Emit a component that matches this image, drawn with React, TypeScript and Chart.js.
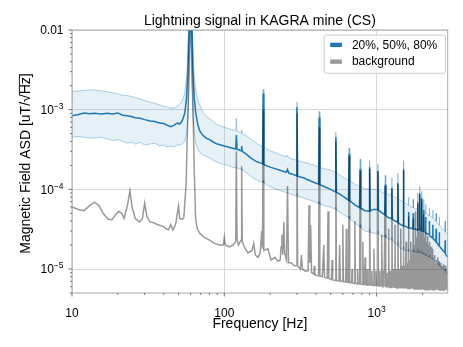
import React, { useEffect, useRef } from 'react';
import { Chart, registerables } from 'chart.js';

Chart.register(...registerables);

const FONT = "'Liberation Sans', Arial, Helvetica, sans-serif";

const chartTitle = 'Lightning signal in KAGRA mine (CS)';
const xTitle = 'Frequency [Hz]';
const yTitlePrefix = 'Magnetic Field ASD [uT/';
const yTitleRoot = '\u221A';
const yTitleUnder = 'Hz';
const yTitleSuffix = ']';
const legendLabels = ['20%, 50%, 80%', 'background'];

const xRange = [10, 2930];
const yRange = [5e-6, 1e-2];
const xMajorTicks = [10, 100, 1000];
const xMajorLabels: [string, string][] = [['10', ''], ['100', ''], ['10', '3']];
const yMajorTicks = [1e-5, 1e-4, 1e-3, 1e-2];
const yMajorLabels: [string, string][] = [['10', '\u22125'], ['10', '\u22124'], ['10', '\u22123'], ['0.01', '']];

// [frequency Hz, 20th percentile, median, 80th percentile]
const bluePercentiles: [number, number, number, number][] = [
  [10, 4.5e-4, 8.4e-4, 1.7e-3],
  [11, 4.6e-4, 8.7e-4, 1.72e-3],
  [12, 4.5e-4, 9.1e-4, 1.75e-3],
  [13, 4.4e-4, 8.9e-4, 1.76e-3],
  [14, 4.4e-4, 9.0e-4, 1.77e-3],
  [15.5, 4.5e-4, 8.8e-4, 1.72e-3],
  [17, 4.3e-4, 9.0e-4, 1.68e-3],
  [18.5, 4.1e-4, 8.8e-4, 1.62e-3],
  [20, 4.2e-4, 9.1e-4, 1.58e-3],
  [21.5, 4.0e-4, 8.5e-4, 1.52e-3],
  [23, 3.8e-4, 8.4e-4, 1.5e-3],
  [24.5, 3.9e-4, 8.2e-4, 1.47e-3],
  [26, 3.7e-4, 7.9e-4, 1.42e-3],
  [28, 3.9e-4, 7.8e-4, 1.36e-3],
  [30, 3.6e-4, 7.5e-4, 1.3e-3],
  [32.5, 3.7e-4, 7.2e-4, 1.24e-3],
  [35, 3.8e-4, 7.1e-4, 1.2e-3],
  [37.5, 3.5e-4, 6.8e-4, 1.15e-3],
  [40, 3.6e-4, 6.7e-4, 1.1e-3],
  [42, 3.4e-4, 6.4e-4, 1.08e-3],
  [44.5, 3.5e-4, 6.1e-4, 1.05e-3],
  [47, 3.4e-4, 6.4e-4, 1.05e-3],
  [49, 3.6e-4, 6.8e-4, 1.1e-3],
  [51, 3.6e-4, 6.6e-4, 1.18e-3],
  [53, 3.7e-4, 7.3e-4, 1.3e-3],
  [55, 4.0e-4, 9.0e-4, 1.6e-3],
  [56.5, 5.0e-4, 1.4e-3, 2.5e-3],
  [57.8, 8.0e-4, 3.5e-3, 6.0e-3],
  [58.8, 2.0e-3, 1.5e-2, 2.0e-2],
  [60, 1.0e-2, 6.0e-2, 8.0e-2],
  [61.2, 2.0e-3, 1.4e-2, 2.0e-2],
  [62.3, 8.0e-4, 3.0e-3, 5.0e-3],
  [63.5, 5.0e-4, 1.4e-3, 2.6e-3],
  [65, 3.8e-4, 9.0e-4, 1.7e-3],
  [67, 3.2e-4, 6.5e-4, 1.3e-3],
  [69, 2.9e-4, 5.4e-4, 1.15e-3],
  [72, 2.7e-4, 4.8e-4, 9.5e-4],
  [76, 2.6e-4, 4.4e-4, 8.3e-4],
  [80, 2.5e-4, 4.2e-4, 7.7e-4],
  [85, 2.3e-4, 3.9e-4, 7.0e-4],
  [90, 2.2e-4, 3.7e-4, 6.5e-4],
  [95, 2.1e-4, 3.6e-4, 6.2e-4],
  [100, 2.05e-4, 3.5e-4, 6.0e-4],
  [106, 2.0e-4, 3.4e-4, 5.8e-4],
  [112, 1.9e-4, 3.3e-4, 5.6e-4],
  [118.8, 1.85e-4, 3.2e-4, 5.5e-4],
  [120, 1.9e-4, 4.8e-4, 7.8e-4],
  [121.2, 1.85e-4, 3.2e-4, 5.4e-4],
  [126, 1.8e-4, 3.1e-4, 5.2e-4],
  [128.8, 1.78e-4, 3.05e-4, 5.1e-4],
  [130, 1.8e-4, 3.5e-4, 5.6e-4],
  [131.2, 1.75e-4, 3.0e-4, 5.0e-4],
  [140, 1.6e-4, 2.75e-4, 4.7e-4],
  [148, 1.48e-4, 2.5e-4, 4.3e-4],
  [157, 1.36e-4, 2.32e-4, 3.95e-4],
  [165, 1.3e-4, 2.2e-4, 3.7e-4],
  [172, 1.25e-4, 2.15e-4, 3.55e-4],
  [178.2, 1.22e-4, 2.1e-4, 3.45e-4],
  [180, 1.3e-4, 1.6e-3, 1.8e-3],
  [181.8, 1.2e-4, 2.05e-4, 3.4e-4],
  [190, 1.14e-4, 1.97e-4, 3.2e-4],
  [200, 1.08e-4, 1.9e-4, 3.05e-4],
  [215, 1.02e-4, 1.82e-4, 2.9e-4],
  [235, 9.6e-5, 1.72e-4, 2.7e-4],
  [255, 9.1e-5, 1.64e-4, 2.55e-4],
  [260, 9.0e-5, 1.78e-4, 2.7e-4],
  [265, 8.9e-5, 1.6e-4, 2.5e-4],
  [280, 8.6e-5, 1.55e-4, 2.4e-4],
  [297, 8.2e-5, 1.48e-4, 2.32e-4],
  [300, 9.0e-5, 1.07e-3, 1.25e-3],
  [303, 8.2e-5, 1.46e-4, 2.3e-4],
  [330, 7.8e-5, 1.4e-4, 2.2e-4],
  [360, 7.4e-5, 1.3e-4, 2.1e-4],
  [390, 7.0e-5, 1.22e-4, 2.0e-4],
  [416, 6.6e-5, 1.16e-4, 1.9e-4],
  [420, 7.0e-5, 8.0e-4, 9.5e-4],
  [424, 6.5e-5, 1.14e-4, 1.88e-4],
  [460, 6.2e-5, 1.07e-4, 1.8e-4],
  [498, 6.0e-5, 1.0e-4, 1.75e-4],
  [535, 5.6e-5, 9.3e-5, 1.62e-4],
  [540, 6.0e-5, 4.5e-4, 5.2e-4],
  [545, 5.5e-5, 9.2e-5, 1.6e-4],
  [590, 5.0e-5, 8.4e-5, 1.46e-4],
  [630, 4.6e-5, 7.7e-5, 1.35e-4],
  [654, 4.4e-5, 7.3e-5, 1.29e-4],
  [660, 4.6e-5, 2.8e-4, 3.3e-4],
  [666, 4.3e-5, 7.2e-5, 1.27e-4],
  [720, 3.8e-5, 6.4e-5, 1.17e-4],
  [773, 3.4e-5, 5.9e-5, 1.08e-4],
  [780, 3.6e-5, 1.8e-4, 2.4e-4],
  [787, 3.3e-5, 5.8e-5, 1.07e-4],
  [840, 3.0e-5, 5.4e-5, 1.02e-4],
  [892, 2.9e-5, 5.3e-5, 1.0e-4],
  [900, 3.2e-5, 1.9e-4, 2.3e-4],
  [908, 2.9e-5, 5.4e-5, 1.0e-4],
  [960, 2.8e-5, 5.6e-5, 1.0e-4],
  [1011, 2.8e-5, 5.6e-5, 1.0e-4],
  [1020, 3.0e-5, 1.7e-4, 2.1e-4],
  [1029, 2.8e-5, 5.5e-5, 9.9e-5],
  [1080, 2.6e-5, 5.1e-5, 9.3e-5],
  [1131, 2.5e-5, 4.8e-5, 8.9e-5],
  [1140, 2.7e-5, 1.15e-4, 1.5e-4],
  [1149, 2.5e-5, 4.7e-5, 8.8e-5],
  [1200, 2.4e-5, 4.4e-5, 8.6e-5],
  [1251, 2.3e-5, 4.3e-5, 8.4e-5],
  [1260, 2.5e-5, 1.05e-4, 1.4e-4],
  [1269, 2.3e-5, 4.2e-5, 8.3e-5],
  [1320, 2.1e-5, 4.0e-5, 8.0e-5],
  [1371, 2.0e-5, 3.9e-5, 7.7e-5],
  [1380, 2.2e-5, 1.2e-4, 1.6e-4],
  [1389, 2.0e-5, 3.8e-5, 7.6e-5],
  [1440, 1.8e-5, 3.6e-5, 7.2e-5],
  [1491, 1.75e-5, 3.5e-5, 7.0e-5],
  [1500, 1.9e-5, 1.8e-4, 2.3e-4],
  [1509, 1.75e-5, 3.5e-5, 6.9e-5],
  [1560, 1.7e-5, 3.4e-5, 6.6e-5],
  [1611, 1.68e-5, 3.3e-5, 6.4e-5],
  [1620, 1.8e-5, 5.2e-5, 8.0e-5],
  [1629, 1.68e-5, 3.3e-5, 6.3e-5],
  [1680, 1.65e-5, 3.25e-5, 6.0e-5],
  [1731, 1.65e-5, 3.2e-5, 5.9e-5],
  [1740, 1.75e-5, 5.0e-5, 7.5e-5],
  [1749, 1.65e-5, 3.2e-5, 5.9e-5],
  [1800, 1.62e-5, 3.15e-5, 5.7e-5],
  [1851, 1.6e-5, 3.1e-5, 5.6e-5],
  [1860, 1.8e-5, 6.5e-5, 9.0e-5],
  [1869, 1.6e-5, 3.1e-5, 5.6e-5],
  [1911, 1.6e-5, 3.2e-5, 5.6e-5],
  [1920, 1.7e-5, 8.6e-5, 1.1e-4],
  [1929, 1.6e-5, 3.1e-5, 5.5e-5],
  [1971, 1.58e-5, 3.05e-5, 5.4e-5],
  [1980, 1.7e-5, 7.5e-5, 9.5e-5],
  [1989, 1.56e-5, 3.0e-5, 5.3e-5],
  [2031, 1.54e-5, 2.98e-5, 5.2e-5],
  [2040, 1.6e-5, 5.5e-5, 7.5e-5],
  [2049, 1.52e-5, 2.95e-5, 5.1e-5],
  [2091, 1.5e-5, 2.9e-5, 5.0e-5],
  [2100, 1.55e-5, 4.5e-5, 6.5e-5],
  [2109, 1.48e-5, 2.85e-5, 4.9e-5],
  [2211, 1.42e-5, 2.7e-5, 4.75e-5],
  [2220, 1.5e-5, 4.0e-5, 5.8e-5],
  [2229, 1.4e-5, 2.65e-5, 4.7e-5],
  [2331, 1.33e-5, 2.45e-5, 4.4e-5],
  [2340, 1.4e-5, 3.6e-5, 5.5e-5],
  [2349, 1.32e-5, 2.42e-5, 4.35e-5],
  [2451, 1.23e-5, 2.2e-5, 4.0e-5],
  [2460, 1.3e-5, 3.2e-5, 5.0e-5],
  [2469, 1.22e-5, 2.18e-5, 3.95e-5],
  [2571, 1.12e-5, 1.95e-5, 3.6e-5],
  [2580, 1.2e-5, 2.9e-5, 4.5e-5],
  [2589, 1.1e-5, 1.93e-5, 3.55e-5],
  [2700, 1.02e-5, 1.75e-5, 3.2e-5],
  [2811, 9.6e-6, 1.6e-5, 3.0e-5],
  [2820, 1.0e-5, 2.3e-5, 4.0e-5],
  [2829, 9.5e-6, 1.55e-5, 2.9e-5],
  [2930, 8.5e-6, 1.4e-5, 2.7e-5],
];

// [frequency Hz, background ASD]
const backgroundAsd: [number, number][] = [
  [10, 6.0e-5], [11, 5.6e-5], [12, 5.4e-5], [13, 6.2e-5], [14, 6.9e-5], [15, 6.3e-5],
  [16, 5.0e-5], [17.3, 4.2e-5], [18.3, 4.15e-5], [19.3, 4.8e-5], [20.3, 5.3e-5], [21.2, 5.0e-5],
  [22, 4.3e-5], [23.2, 6.5e-5], [24, 9.6e-5], [24.8, 6.0e-5], [26, 4.3e-5], [27.8, 3.9e-5],
  [29, 4.3e-5], [30, 6.7e-5], [31, 4.6e-5], [32.5, 3.9e-5], [34.5, 3.8e-5], [36.5, 3.6e-5],
  [38.5, 3.5e-5], [40, 3.4e-5], [41.5, 3.2e-5], [43, 3.1e-5], [44.5, 3.6e-5], [46, 3.1e-5],
  [48, 3.7e-5], [50, 6.2e-5], [51, 4.3e-5], [52.5, 4.2e-5], [54.2, 4.4e-5], [56.2, 1.2e-4],
  [57, 4.0e-4], [57.9, 1.1e-3], [59, 6.0e-3], [60, 5.0e-2], [61, 6.0e-3], [62.3, 1.1e-3],
  [63.5, 1.7e-4], [64.8, 4.3e-5], [66.5, 3.2e-5], [69, 2.8e-5], [74, 2.5e-5], [80, 2.3e-5],
  [86, 2.1e-5], [93, 2.0e-5], [98.5, 2.0e-5], [100, 2.5e-5], [101.5, 2.0e-5], [108, 1.9e-5],
  [114, 2.0e-5], [118.8, 2.2e-5], [120, 3.0e-4], [121.2, 2.4e-5], [124, 2.0e-5], [128.8, 2.3e-5],
  [130, 1.95e-4], [131.2, 2.2e-5], [137, 1.8e-5], [143, 1.6e-5], [152, 1.7e-5], [156, 2.1e-5],
  [160, 1.5e-5], [166, 1.4e-5], [172, 1.6e-5], [176, 3.0e-5], [178.2, 1.8e-5], [180, 1.0e-3],
  [181.8, 1.7e-5], [193, 1.8e-5], [203, 1.3e-5], [215, 1.4e-5], [225, 1.25e-5], [233, 1.3e-5],
  [236, 1.9e-5], [239, 2.7e-5], [242, 1.5e-5], [246, 3.9e-5], [249, 1.6e-5], [256, 1.3e-5],
  [260, 1.1e-4], [264, 1.2e-5], [275, 1.2e-5], [288, 1.1e-5], [297, 1.1e-5], [300, 9.0e-4],
  [303, 1.1e-5], [316, 1.0e-5], [321, 1.5e-5], [326, 1.0e-5], [340, 9.4e-6], [355, 9.5e-6],
  [360, 6.3e-5], [364, 1.2e-5], [369, 3.6e-5], [374, 9.0e-6], [387, 8.6e-6], [390, 1.1e-5],
  [393, 8.5e-6], [405, 8.3e-6], [416, 8.2e-6], [420, 6.0e-4], [424, 8.2e-6], [440, 8.0e-6],
  [450, 2.0e-5], [455, 7.9e-6], [474, 7.7e-6], [480, 5.3e-5], [486, 7.6e-6], [505, 7.4e-6],
  [510, 1.3e-5], [515, 7.3e-6], [535, 7.2e-6], [540, 4.0e-4], [545, 7.2e-6], [566, 7.1e-6],
  [572, 2.0e-5], [578, 7.0e-6], [594, 7.0e-6], [600, 3.6e-5], [606, 6.9e-6], [627, 6.9e-6],
  [633, 3.2e-5], [639, 6.8e-6], [654, 6.8e-6], [660, 2.6e-4], [666, 6.7e-6], [685, 6.7e-6],
  [690, 1.0e-5], [695, 6.7e-6], [714, 6.6e-6], [720, 4.0e-5], [726, 6.6e-6], [745, 6.6e-6],
  [750, 1.0e-5], [755, 6.5e-6], [773, 6.5e-6], [780, 1.7e-4], [787, 6.5e-6], [805, 6.4e-6],
  [812, 2.2e-5], [819, 6.4e-6], [833, 6.4e-6], [840, 1.4e-5], [847, 6.4e-6], [862, 6.3e-6],
  [870, 1.0e-5], [878, 6.3e-6], [892, 6.3e-6], [900, 1.8e-4], [908, 6.3e-6], [922, 6.3e-6],
  [930, 9.5e-6], [938, 6.2e-6], [952, 6.2e-6], [960, 1.8e-5], [968, 6.2e-6], [982, 6.2e-6],
  [990, 9.5e-6], [998, 6.2e-6], [1011, 6.2e-6], [1020, 1.7e-4], [1029, 6.1e-6], [1041, 6.1e-6],
  [1050, 9.5e-6], [1059, 6.1e-6], [1071, 6.1e-6], [1080, 2.7e-5], [1089, 6.1e-6], [1101, 6.0e-6],
  [1110, 9.5e-6], [1119, 6.0e-6], [1131, 6.0e-6], [1140, 1.1e-4], [1149, 6.0e-6], [1161, 6.0e-6],
  [1170, 9.0e-6], [1179, 6.0e-6], [1191, 6.0e-6], [1200, 3.2e-5], [1209, 6.0e-6], [1221, 5.9e-6],
  [1230, 9.5e-6], [1240, 5.9e-6], [1251, 5.9e-6], [1260, 1.0e-4], [1269, 5.9e-6], [1281, 5.9e-6],
  [1290, 1.0e-5], [1300, 5.9e-6], [1311, 5.9e-6], [1320, 3.6e-5], [1329, 5.9e-6], [1341, 5.9e-6],
  [1350, 1.0e-5], [1360, 5.8e-6], [1371, 5.8e-6], [1380, 1.15e-4], [1389, 5.8e-6], [1401, 5.8e-6],
  [1410, 1.0e-5], [1420, 5.8e-6], [1431, 5.8e-6], [1440, 3.2e-5], [1449, 5.8e-6], [1461, 5.8e-6],
  [1470, 1.1e-5], [1480, 5.8e-6], [1491, 5.8e-6], [1500, 1.7e-4], [1509, 5.8e-6], [1521, 5.8e-6],
  [1530, 1.1e-5], [1540, 5.7e-6], [1551, 5.7e-6], [1560, 2.2e-5], [1569, 5.7e-6], [1581, 5.7e-6],
  [1590, 1.2e-5], [1600, 5.7e-6], [1611, 5.7e-6], [1620, 4.6e-5], [1629, 5.7e-6], [1641, 5.7e-6],
  [1650, 1.3e-5], [1660, 5.7e-6], [1671, 5.7e-6], [1680, 2.2e-5], [1689, 5.7e-6], [1701, 5.7e-6],
  [1710, 1.6e-5], [1720, 5.7e-6], [1731, 5.7e-6], [1740, 4.3e-5], [1749, 5.7e-6], [1761, 5.6e-6],
  [1770, 2.0e-5], [1780, 5.6e-6], [1791, 5.6e-6], [1800, 5.3e-5], [1809, 5.6e-6], [1821, 5.6e-6],
  [1830, 2.5e-5], [1840, 5.6e-6], [1851, 5.6e-6], [1860, 7.0e-5], [1869, 5.6e-6], [1881, 5.6e-6],
  [1890, 3.0e-5], [1900, 5.6e-6], [1911, 5.6e-6], [1920, 9.0e-5], [1929, 5.6e-6], [1941, 5.6e-6],
  [1950, 3.5e-5], [1960, 5.6e-6], [1971, 5.6e-6], [1980, 7.8e-5], [1989, 5.6e-6], [2001, 5.6e-6],
  [2010, 3.0e-5], [2020, 5.6e-6], [2031, 5.6e-6], [2040, 4.8e-5], [2049, 5.6e-6], [2061, 5.6e-6],
  [2070, 2.5e-5], [2080, 5.5e-6], [2091, 5.5e-6], [2100, 2.9e-5], [2109, 5.5e-6], [2121, 5.5e-6],
  [2130, 2.2e-5], [2140, 5.5e-6], [2151, 5.5e-6], [2160, 2.6e-5], [2169, 5.5e-6], [2181, 5.5e-6],
  [2190, 2.0e-5], [2200, 5.5e-6], [2211, 5.5e-6], [2220, 2.2e-5], [2229, 5.5e-6], [2241, 5.5e-6],
  [2250, 1.7e-5], [2260, 5.5e-6], [2271, 5.5e-6], [2280, 1.9e-5], [2289, 5.5e-6], [2301, 5.5e-6],
  [2310, 1.5e-5], [2320, 5.5e-6], [2331, 5.5e-6], [2340, 1.8e-5], [2349, 5.5e-6], [2361, 5.5e-6],
  [2370, 1.3e-5], [2380, 5.5e-6], [2391, 5.5e-6], [2400, 1.5e-5], [2409, 5.5e-6], [2430, 5.5e-6],
  [2460, 1.2e-5], [2490, 5.5e-6], [2520, 1.4e-5], [2550, 5.4e-6], [2580, 1.25e-5], [2610, 5.4e-6],
  [2640, 1.2e-5], [2670, 5.4e-6], [2700, 1.1e-5], [2730, 5.4e-6], [2760, 1.15e-5], [2790, 5.4e-6],
  [2820, 1.1e-5], [2850, 5.4e-6], [2880, 1.0e-5], [2930, 5.4e-6],
];

const BLUE = '#1f77b4';
const BAND_EDGE = 'rgba(31,119,180,0.35)';
const BAND_FILL = 'rgba(31,119,180,0.11)';
const GRAY = 'rgba(0,0,0,0.4)';
const GRAY_PATCH = '#999999';

function minorTicks(lo: number, hi: number): number[] {
  const out: number[] = [];
  for (let e = Math.floor(Math.log10(lo)); e <= Math.ceil(Math.log10(hi)); e++) {
    for (let m = 2; m <= 9; m++) {
      const v = m * Math.pow(10, e);
      if (v >= lo * 0.999 && v <= hi * 1.001) out.push(v);
    }
  }
  return out;
}

const xMinor = minorTicks(xRange[0], xRange[1]);
const yMinor = minorTicks(yRange[0], yRange[1]);

function drawPow(ctx: CanvasRenderingContext2D, base: string, exp: string, x: number, y: number, align: 'center' | 'right') {
  ctx.font = `12px ${FONT}`;
  const wb = ctx.measureText(base).width;
  ctx.font = `8.5px ${FONT}`;
  const we = exp ? ctx.measureText(exp).width : 0;
  const total = wb + we;
  const start = align === 'center' ? x - total / 2 : x - total;
  ctx.textAlign = 'left';
  ctx.textBaseline = 'alphabetic';
  ctx.font = `12px ${FONT}`;
  ctx.fillText(base, start, y);
  if (exp) {
    ctx.font = `8.5px ${FONT}`;
    ctx.fillText(exp, start + wb, y - 5);
  }
}

const decorPlugin = {
  id: 'decor',
  afterDraw(chart: any) {
    const ctx: CanvasRenderingContext2D = chart.ctx;
    const a = chart.chartArea;
    const xs = chart.scales.x;
    const ys = chart.scales.y;
    ctx.save();

    // spines
    ctx.strokeStyle = '#a8a8a8';
    ctx.lineWidth = 1;
    ctx.strokeRect(a.left, a.top, a.right - a.left, a.bottom - a.top);

    // tick marks
    ctx.strokeStyle = '#555';
    ctx.lineWidth = 0.8;
    const xt = [...xMajorTicks.map((v) => [v, 3.5]), ...xMinor.map((v) => [v, 2])];
    for (const [v, len] of xt) {
      const px = xs.getPixelForValue(v);
      ctx.beginPath();
      ctx.moveTo(px, a.bottom);
      ctx.lineTo(px, a.bottom + len);
      ctx.stroke();
    }
    const yt = [...yMajorTicks.map((v) => [v, 3.5]), ...yMinor.map((v) => [v, 2])];
    for (const [v, len] of yt) {
      const py = ys.getPixelForValue(v);
      ctx.beginPath();
      ctx.moveTo(a.left, py);
      ctx.lineTo(a.left - len, py);
      ctx.stroke();
    }

    // tick labels
    ctx.fillStyle = '#000';
    xMajorTicks.forEach((v, i) => {
      const px = xs.getPixelForValue(v);
      drawPow(ctx, xMajorLabels[i][0], xMajorLabels[i][1], px, a.bottom + 23.7, 'center');
    });
    yMajorTicks.forEach((v, i) => {
      const py = ys.getPixelForValue(v);
      drawPow(ctx, yMajorLabels[i][0], yMajorLabels[i][1], a.left - 8.5, py + 4.3, 'right');
    });

    // title
    const cx = (a.left + a.right) / 2;
    ctx.font = `14px ${FONT}`;
    ctx.textAlign = 'center';
    ctx.textBaseline = 'alphabetic';
    ctx.fillText(chartTitle, cx, 24.5);
    ctx.fillText(xTitle, cx, a.bottom + 34.5);

    // y title with radical overline
    ctx.save();
    ctx.translate(30, (a.top + a.bottom) / 2 + 2);
    ctx.rotate(-Math.PI / 2);
    ctx.font = `14px ${FONT}`;
    const full = yTitlePrefix + yTitleRoot + yTitleUnder + yTitleSuffix;
    const w = ctx.measureText(full).width;
    const wp = ctx.measureText(yTitlePrefix).width;
    const wr = ctx.measureText(yTitleRoot).width;
    const wu = ctx.measureText(yTitleUnder).width;
    const rootTop = ctx.measureText(yTitleRoot).actualBoundingBoxAscent || 11;
    ctx.textAlign = 'left';
    ctx.fillText(full, -w / 2, 0);
    ctx.strokeStyle = '#000';
    ctx.lineWidth = 0.9;
    ctx.beginPath();
    ctx.moveTo(-w / 2 + wp + wr - 0.8, -rootTop + 0.4);
    ctx.lineTo(-w / 2 + wp + wr + wu + 0.5, -rootTop + 0.4);
    ctx.stroke();
    ctx.restore();

    // legend
    const bx = a.right - 123.5;
    const by = a.top + 5;
    const bw = 121.3;
    const bh = 38.3;
    ctx.fillStyle = 'rgba(255,255,255,0.8)';
    ctx.strokeStyle = '#cccccc';
    ctx.lineWidth = 1;
    ctx.beginPath();
    (ctx as any).roundRect ? (ctx as any).roundRect(bx, by, bw, bh, 2) : ctx.rect(bx, by, bw, bh);
    ctx.fill();
    ctx.stroke();
    ctx.fillStyle = BLUE;
    ctx.fillRect(bx + 6, by + 7.7, 11.7, 4.3);
    ctx.fillStyle = GRAY_PATCH;
    ctx.fillRect(bx + 6, by + 24.5, 11.7, 4.3);
    ctx.fillStyle = '#000';
    ctx.font = `12px ${FONT}`;
    ctx.textAlign = 'left';
    ctx.fillText(legendLabels[0], bx + 27.7, by + 14.3);
    ctx.fillText(legendLabels[1], bx + 27.7, by + 30.3);

    ctx.restore();
  },
};

export default function App() {
  const ref = useRef<HTMLCanvasElement>(null);
  useEffect(() => {
    const canvas = ref.current;
    if (!canvas) return;
    const gridColor = (c: any) => (c.tick && c.tick.major ? '#d9d9d9' : 'rgba(0,0,0,0)');
    const chart = new Chart(canvas, {
      type: 'line',
      data: {
        datasets: [
          {
            label: 'background',
            data: backgroundAsd.map((r) => ({ x: r[0], y: r[1] })),
            borderColor: GRAY,
            borderWidth: 1.5,
            pointRadius: 0,
            fill: false,
            order: 0,
          },
          {
            label: 'median',
            data: bluePercentiles.map((r) => ({ x: r[0], y: r[2] })),
            borderColor: BLUE,
            borderWidth: 1.5,
            pointRadius: 0,
            fill: false,
            order: 1,
          },
          {
            label: '80%',
            data: bluePercentiles.map((r) => ({ x: r[0], y: r[3] })),
            borderColor: BAND_EDGE,
            backgroundColor: BAND_FILL,
            borderWidth: 1,
            pointRadius: 0,
            fill: '+1',
            order: 2,
          },
          {
            label: '20%',
            data: bluePercentiles.map((r) => ({ x: r[0], y: r[1] })),
            borderColor: BAND_EDGE,
            borderWidth: 1,
            pointRadius: 0,
            fill: false,
            order: 3,
          },
        ],
      },
      options: {
        animation: false,
        responsive: false,
        devicePixelRatio: 1,
        events: [],
        layout: { padding: { top: 30, right: 15.3, left: 0, bottom: 0 } },
        plugins: { legend: { display: false }, tooltip: { enabled: false }, title: { display: false } },
        scales: {
          x: {
            type: 'logarithmic',
            min: xRange[0],
            max: xRange[1],
            afterFit: (s: any) => { s.height = 54; },
            afterBuildTicks: (s: any) => {
              s.ticks = [
                ...xMajorTicks.map((v) => ({ value: v, major: true })),
                ...xMinor.map((v) => ({ value: v, major: false })),
              ].sort((p, q) => p.value - q.value);
            },
            ticks: { display: false, autoSkip: false },
            grid: { color: gridColor, lineWidth: 1, drawTicks: false },
            border: { display: false },
          },
          y: {
            type: 'logarithmic',
            min: yRange[0],
            max: yRange[1],
            afterFit: (s: any) => { s.width = 72; },
            afterBuildTicks: (s: any) => {
              s.ticks = [
                ...yMajorTicks.map((v) => ({ value: v, major: true })),
                ...yMinor.map((v) => ({ value: v, major: false })),
              ].sort((p, q) => p.value - q.value);
            },
            ticks: { display: false, autoSkip: false },
            grid: { color: gridColor, lineWidth: 1, drawTicks: false },
            border: { display: false },
          },
        },
      } as any,
      plugins: [decorPlugin],
    });
    return () => chart.destroy();
  }, []);
  return (
    <div style={{ position: 'fixed', left: 0, top: 0, width: 463, height: 347, background: '#fff' }}>
      <canvas ref={ref} width={463} height={347} style={{ width: 463, height: 347, display: 'block' }} />
    </div>
  );
}
